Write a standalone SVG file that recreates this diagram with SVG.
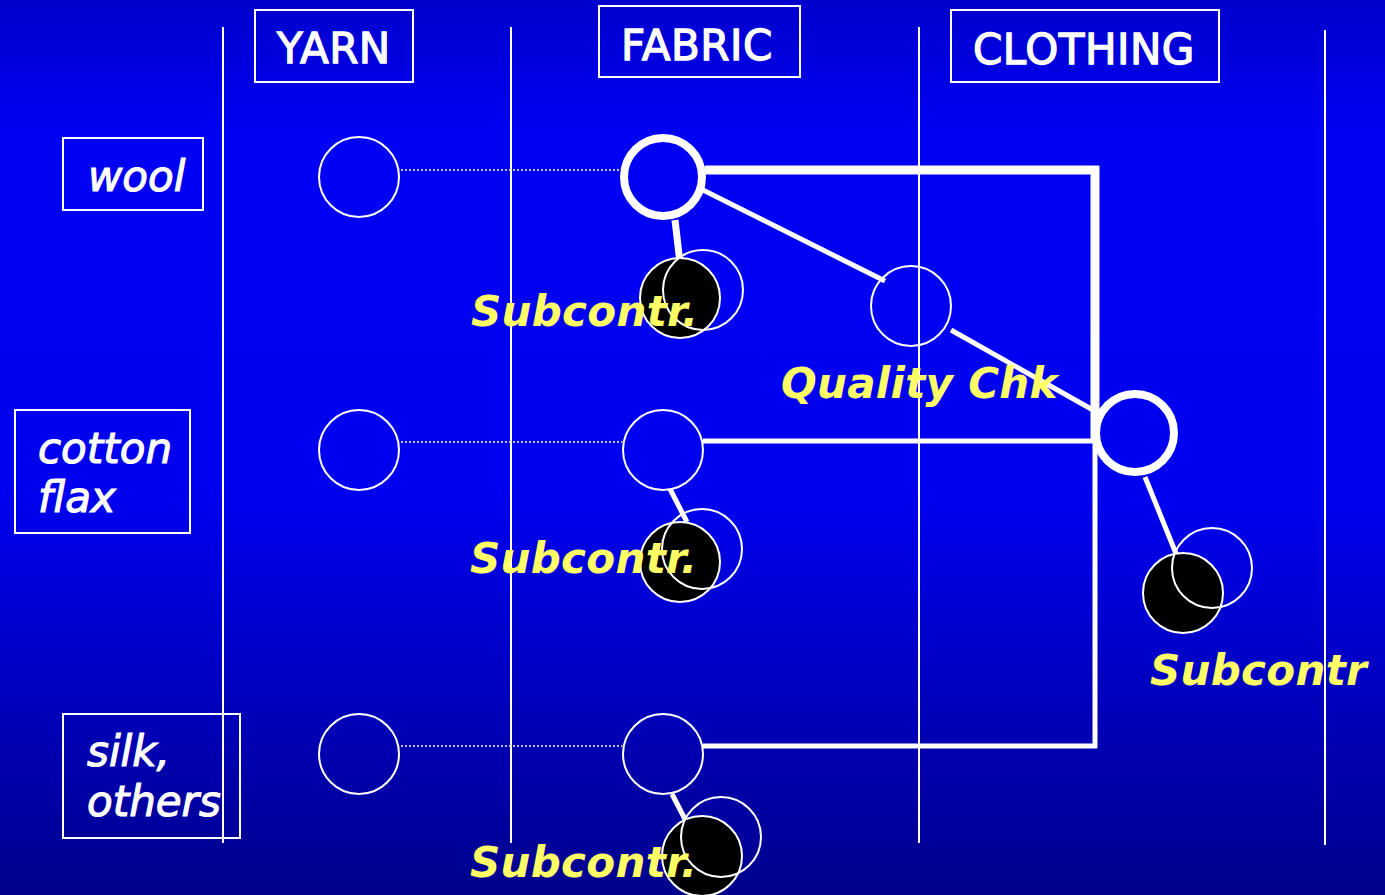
<svg xmlns="http://www.w3.org/2000/svg" width="1385" height="895" viewBox="0 0 1385 895">
<defs>
<linearGradient id="bg" x1="0" y1="0" x2="0" y2="1">
<stop offset="0" stop-color="#0000cc"/>
<stop offset="0.15" stop-color="#0000f4"/>
<stop offset="0.55" stop-color="#0000f0"/>
<stop offset="1" stop-color="#00008c"/>
</linearGradient>
</defs>
<style>
.box{fill:none;stroke:#fff;stroke-width:2}
.hdr{font-family:"DejaVu Sans",Verdana,sans-serif;font-size:42px;fill:#fff;stroke:#fff;stroke-width:1.3;letter-spacing:0.5px}
.lbl{font-family:"DejaVu Sans",Verdana,sans-serif;font-size:42px;font-style:italic;fill:#fff;stroke:#fff;stroke-width:1.1}
.ylw{font-family:"DejaVu Sans",Verdana,sans-serif;font-size:42px;font-style:italic;font-weight:bold;fill:#ffff66;letter-spacing:0.3px}
.col{stroke:#fff;stroke-width:2}
.c{fill:none;stroke:#fff;stroke-width:2}
.ck{fill:none;stroke:#fff;stroke-width:8}
.blk{fill:#000;stroke:#fff;stroke-width:2}
.dot{stroke:#fff;stroke-width:1.5;stroke-dasharray:2 2}
.w5{stroke:#fff;stroke-width:5;fill:none}
.w7{stroke:#fff;stroke-width:7;fill:none}
.w10{stroke:#fff;stroke-width:9;fill:none}
</style>
<rect width="1385" height="895" fill="url(#bg)"/>
<g id="columns">
<line class="col" x1="223" y1="27" x2="223" y2="843"/>
<line class="col" x1="511" y1="27" x2="511" y2="843"/>
<line class="col" x1="919" y1="27" x2="919" y2="843"/>
<line class="col" x1="1325" y1="30" x2="1325" y2="845"/>
</g>
<g id="hdr-yarn"><rect class="box" x="255" y="10" width="158" height="72"/><text class="hdr" x="277" y="63">YARN</text></g>
<g id="hdr-fabric"><rect class="box" x="599" y="6" width="201" height="71"/><text class="hdr" x="621" y="60">FABRIC</text></g>
<g id="hdr-clothing"><rect class="box" x="951" y="10" width="268" height="72"/><text class="hdr" x="973" y="64">CLOTHING</text></g>
<g id="lbl-wool"><rect class="box" x="63" y="138" width="140" height="72"/><text class="lbl" x="88" y="191">wool</text></g>
<g id="lbl-cotton"><rect class="box" x="15" y="410" width="175" height="123"/><text class="lbl" x="38" y="463">cotton</text><text class="lbl" x="38" y="512">flax</text></g>
<g id="lbl-silk"><rect class="box" x="63" y="714" width="177" height="124"/><text class="lbl" x="87" y="766">silk,</text><text class="lbl" x="87" y="816">others</text></g>
<g id="connectors">
<line class="dot" x1="401" y1="170" x2="622" y2="170"/>
<line class="dot" x1="401" y1="442" x2="622" y2="442"/>
<line class="dot" x1="401" y1="746" x2="622" y2="746"/>
<line class="w10" x1="705" y1="170" x2="1099" y2="170"/>
<line class="w10" x1="1095" y1="166" x2="1095" y2="441"/>
<line class="w5" x1="1095" y1="441" x2="1095" y2="748"/>
<line class="w5" x1="703" y1="441" x2="1097" y2="441"/>
<line class="w5" x1="703" y1="746" x2="1097" y2="746"/>
<line class="w5" x1="697" y1="187" x2="885" y2="281"/>
<line class="w5" x1="951" y1="330" x2="1093" y2="410"/>
<line class="w5" x1="1145" y1="477" x2="1177" y2="556"/>
<line class="w7" x1="675" y1="220" x2="680" y2="263"/>
<line class="w5" x1="670" y1="489" x2="687" y2="522"/>
<line class="w5" x1="672" y1="794" x2="688" y2="825"/>
</g>
<g id="yarn-wool"><circle class="c" cx="359" cy="177" r="40"/></g>
<g id="yarn-cotton"><circle class="c" cx="359" cy="450" r="40"/></g>
<g id="yarn-silk"><circle class="c" cx="359" cy="754" r="40"/></g>
<g id="fabric-wool"><circle class="ck" cx="663" cy="177" r="39"/></g>
<g id="fabric-cotton"><circle class="c" cx="663" cy="450" r="40"/></g>
<g id="fabric-silk"><circle class="c" cx="663" cy="754" r="40"/></g>
<g id="quality"><circle class="c" cx="911" cy="306" r="40"/><text class="ylw" x="781" y="398">Quality Chk</text></g>
<g id="clothing"><circle class="ck" cx="1135" cy="433" r="39"/></g>
<g id="sub-wool"><circle class="blk" cx="680" cy="298" r="40"/><circle class="c" cx="703" cy="290" r="40"/><text class="ylw" x="471" y="326">Subcontr.</text></g>
<g id="sub-cotton"><circle class="blk" cx="680" cy="562" r="40"/><circle class="c" cx="702" cy="549" r="40"/><text class="ylw" x="470" y="573">Subcontr.</text></g>
<g id="sub-silk"><circle class="blk" cx="702" cy="856" r="40"/><circle class="c" cx="721" cy="837" r="40"/><text class="ylw" x="470" y="877">Subcontr.</text></g>
<g id="sub-clothing"><circle class="blk" cx="1183" cy="593" r="40"/><circle class="c" cx="1212" cy="568" r="40"/><text class="ylw" x="1150" y="685">Subcontr</text></g>
</svg>
